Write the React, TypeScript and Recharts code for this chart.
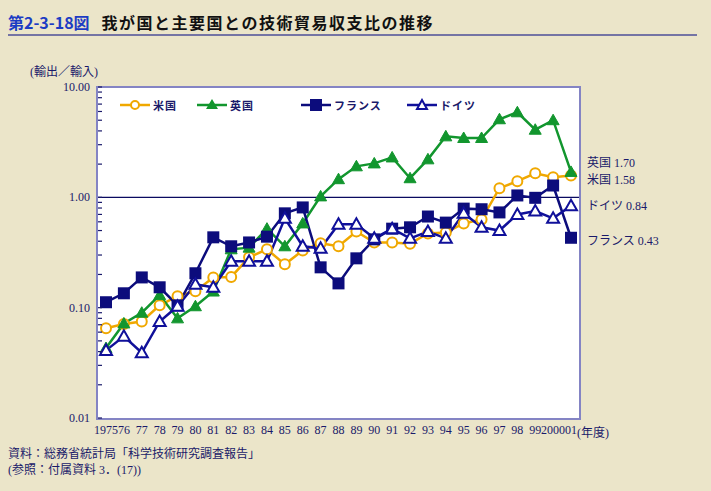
import React from "react";
import {
  LineChart,
  Line,
  XAxis,
  YAxis,
  ReferenceLine,
} from "recharts";

const years = [
  "1975", "76", "77", "78", "79", "80", "81", "82", "83", "84", "85", "86", "87", "88",
  "89", "90", "91", "92", "93", "94", "95", "96", "97", "98", "99", "2000", "01",
];

const usRatio = [
  0.065, 0.071, 0.075, 0.105, 0.127, 0.141, 0.188, 0.19, 0.286, 0.338, 0.247, 0.33, 0.383, 0.36,
  0.49, 0.39, 0.39, 0.38, 0.47, 0.48, 0.58, 0.63, 1.21, 1.4, 1.65, 1.52, 1.58,
];
const ukRatio = [
  0.043, 0.072, 0.09, 0.13, 0.08, 0.103, 0.14, 0.338, 0.35, 0.52, 0.36, 0.58, 1.02, 1.46,
  1.91, 2.03, 2.3, 1.49, 2.21, 3.57, 3.45, 3.45, 5.1, 5.9, 4.1, 5.0, 1.7,
];
const franceRatio = [
  0.112, 0.135, 0.188, 0.153, 0.105, 0.205, 0.434, 0.36, 0.39, 0.44, 0.716, 0.81, 0.232, 0.166,
  0.28, 0.416, 0.52, 0.535, 0.67, 0.59, 0.79, 0.78, 0.73, 1.04, 0.99, 1.28, 0.43,
];
const germanyRatio = [
  0.041, 0.055, 0.039, 0.075, 0.103, 0.163, 0.153, 0.263, 0.263, 0.263, 0.645, 0.36, 0.345, 0.57,
  0.57, 0.425, 0.52, 0.425, 0.49, 0.425, 0.716, 0.535, 0.5, 0.7, 0.75, 0.645, 0.84,
];

const majorTicks = [0.01, 0.1, 1, 10];
const yTicks = [
  0.01, 0.02, 0.03, 0.04, 0.05, 0.06, 0.07, 0.08, 0.09,
  0.1, 0.2, 0.3, 0.4, 0.5, 0.6, 0.7, 0.8, 0.9,
  1, 2, 3, 4, 5, 6, 7, 8, 9, 10,
];

const endLabels = [
  { text: "英国 1.70", top: 153 },
  { text: "米国 1.58", top: 170 },
  { text: "ドイツ 0.84", top: 196 },
  { text: "フランス 0.43", top: 231 },
];

const data = years.map((year, i) => ({
  year,
  us: usRatio[i],
  uk: ukRatio[i],
  france: franceRatio[i],
  germany: germanyRatio[i],
}));

const BG = "#ebe5c9";
const NAVY = "#1a1a6a";
const ORANGE = "#f0a800";
const GREEN = "#12962e";
const FR_BLUE = "#0c0c7c";
const DE_BLUE = "#10109a";
const SERIF = '"Liberation Serif", "Noto Sans CJK JP", serif';
const GOTHIC = '"Noto Sans CJK JP", "Noto Sans", sans-serif';

function circleDot(props: any) {
  const { cx, cy, index } = props;
  if (cx == null || cy == null) return <g key={index} />;
  return <circle key={index} cx={cx} cy={cy} r={5} fill="#fff" stroke={ORANGE} strokeWidth={2} />;
}

function triangleDot(fill: string, stroke: string) {
  return (props: any) => {
    const { cx, cy, index } = props;
    if (cx == null || cy == null) return <g key={index} />;
    const h = 10;
    const w = 12;
    return (
      <polygon
        key={index}
        points={`${cx},${cy - h * 0.6} ${cx - w / 2},${cy + h * 0.45} ${cx + w / 2},${cy + h * 0.45}`}
        fill={fill}
        stroke={stroke}
        strokeWidth={fill === "#fff" ? 2 : 1}
      />
    );
  };
}

function squareDot(props: any) {
  const { cx, cy, index } = props;
  if (cx == null || cy == null) return <g key={index} />;
  return <rect key={index} x={cx - 6} y={cy - 6} width={12} height={12} fill={FR_BLUE} />;
}

function YTick(props: any) {
  const { x, y, payload } = props;
  const v = payload.value;
  const major = majorTicks.includes(v);
  return (
    <g>
      <line x1={x} x2={x + 4} y1={y} y2={y} stroke={NAVY} strokeWidth={1.2} />
      {major && (
        <text x={x - 8} y={y} dy={4} textAnchor="end" fill={NAVY} fontSize={12} fontFamily={SERIF}>
          {v.toFixed(2)}
        </text>
      )}
    </g>
  );
}

const legendItems = [
  { name: "米国", left: 0, kind: "circle" },
  { name: "英国", left: 77, kind: "tri" },
  { name: "フランス", left: 181, kind: "square" },
  { name: "ドイツ", left: 287, kind: "open" },
];

function LegendMarker({ kind }: { kind: string }) {
  const color = kind === "circle" ? ORANGE : kind === "tri" ? GREEN : kind === "square" ? FR_BLUE : DE_BLUE;
  return (
    <svg width={32} height={14} style={{ display: "block" }}>
      <line x1={1} x2={31} y1={7} y2={7} stroke={color} strokeWidth={2.5} />
      {kind === "circle" && <circle cx={16} cy={7} r={4} fill="#fff" stroke={color} strokeWidth={2} />}
      {kind === "tri" && <polygon points="16,1 10,11 22,11" fill={color} />}
      {kind === "square" && <rect x={10} y={1} width={12} height={12} fill={color} />}
      {kind === "open" && <polygon points="16,2 11,11 21,11" fill="#fff" stroke={color} strokeWidth={2} />}
    </svg>
  );
}

function ChartLegend() {
  return (
    <div style={{ position: "absolute", left: 119, top: 97, width: 360, height: 16 }}>
      {legendItems.map((it) => (
        <div
          key={it.name}
          style={{ position: "absolute", left: it.left, top: 0, display: "flex", alignItems: "center" }}
        >
          <LegendMarker kind={it.kind} />
          <span style={{ marginLeft: 2, fontSize: 11, fontFamily: GOTHIC, color: NAVY, fontWeight: 700, letterSpacing: 1 }}>
            {it.name}
          </span>
        </div>
      ))}
    </div>
  );
}

export default function App() {
  return (
    <div
      style={{
        position: "absolute",
        left: 0,
        top: 0,
        width: 711,
        height: 491,
        background: BG,
        overflow: "hidden",
        fontFamily: SERIF,
      }}
    >
      <div style={{ position: "absolute", left: 8, top: 10, fontFamily: GOTHIC, fontWeight: 700, whiteSpace: "nowrap" }}>
        <span style={{ color: "#1c3cc4", fontSize: 16 }}>第2-3-18図</span>
        <span style={{ color: "#111", fontSize: 16, marginLeft: 12, letterSpacing: 1.5 }}>
          我が国と主要国との技術貿易収支比の推移
        </span>
      </div>
      <div style={{ position: "absolute", left: 8, top: 34, width: 689, height: 2, background: "#7474a4" }} />

      <div style={{ position: "absolute", left: 30, top: 62, fontSize: 12, color: NAVY, fontFamily: SERIF }}>
        (輸出／輸入)
      </div>

      <div
        style={{
          position: "absolute",
          left: 96,
          top: 86,
          width: 481,
          height: 330,
          background: "#fff",
          border: "2px solid #8484c4",
        }}
      />

      <div style={{ position: "absolute", left: 0, top: 0 }}>
        <LineChart width={711} height={491} data={data} margin={{ top: 87, right: 132, bottom: 43, left: 38 }}>
          <XAxis
            dataKey="year"
            interval={0}
            padding={{ left: 8, right: 8 }}
            axisLine={false}
            tickLine={false}
            tickSize={0}
            tickMargin={7}
            height={30}
            tick={{ fill: NAVY, fontSize: 12, fontFamily: SERIF }}
          />
          <YAxis
            scale="log"
            domain={[0.01, 10]}
            ticks={yTicks}
            interval={0}
            allowDataOverflow
            axisLine={false}
            tickLine={false}
            tickSize={0}
            tickMargin={0}
            width={60}
            tick={<YTick />}
          />
          <ReferenceLine y={1} stroke="#0a0a60" strokeWidth={1.3} />
          <Line
            dataKey="us"
            name="米国"
            stroke={ORANGE}
            strokeWidth={2.5}
            dot={circleDot}
            isAnimationActive={false}
          />
          <Line
            dataKey="uk"
            name="英国"
            stroke={GREEN}
            strokeWidth={2.5}
            dot={triangleDot(GREEN, GREEN)}
            isAnimationActive={false}
          />
          <Line
            dataKey="france"
            name="フランス"
            stroke={FR_BLUE}
            strokeWidth={2.5}
            dot={squareDot}
            isAnimationActive={false}
          />
          <Line
            dataKey="germany"
            name="ドイツ"
            stroke={DE_BLUE}
            strokeWidth={2.5}
            dot={triangleDot("#fff", DE_BLUE)}
            isAnimationActive={false}
          />
        </LineChart>
      </div>

      <ChartLegend />

      <div style={{ position: "absolute", left: 577, top: 423, fontSize: 12, color: NAVY, fontFamily: SERIF }}>
        (年度)
      </div>

      {endLabels.map((l) => (
        <div
          key={l.text}
          style={{ position: "absolute", left: 587, top: l.top, fontSize: 12, color: NAVY, fontFamily: SERIF, whiteSpace: "nowrap" }}
        >
          {l.text}
        </div>
      ))}

      <div style={{ position: "absolute", left: 8, top: 446, fontSize: 12, color: NAVY, fontFamily: SERIF, lineHeight: "16px" }}>
        <div>資料：総務省統計局「科学技術研究調査報告」</div>
        <div>(参照：付属資料 3．(17))</div>
      </div>
    </div>
  );
}
